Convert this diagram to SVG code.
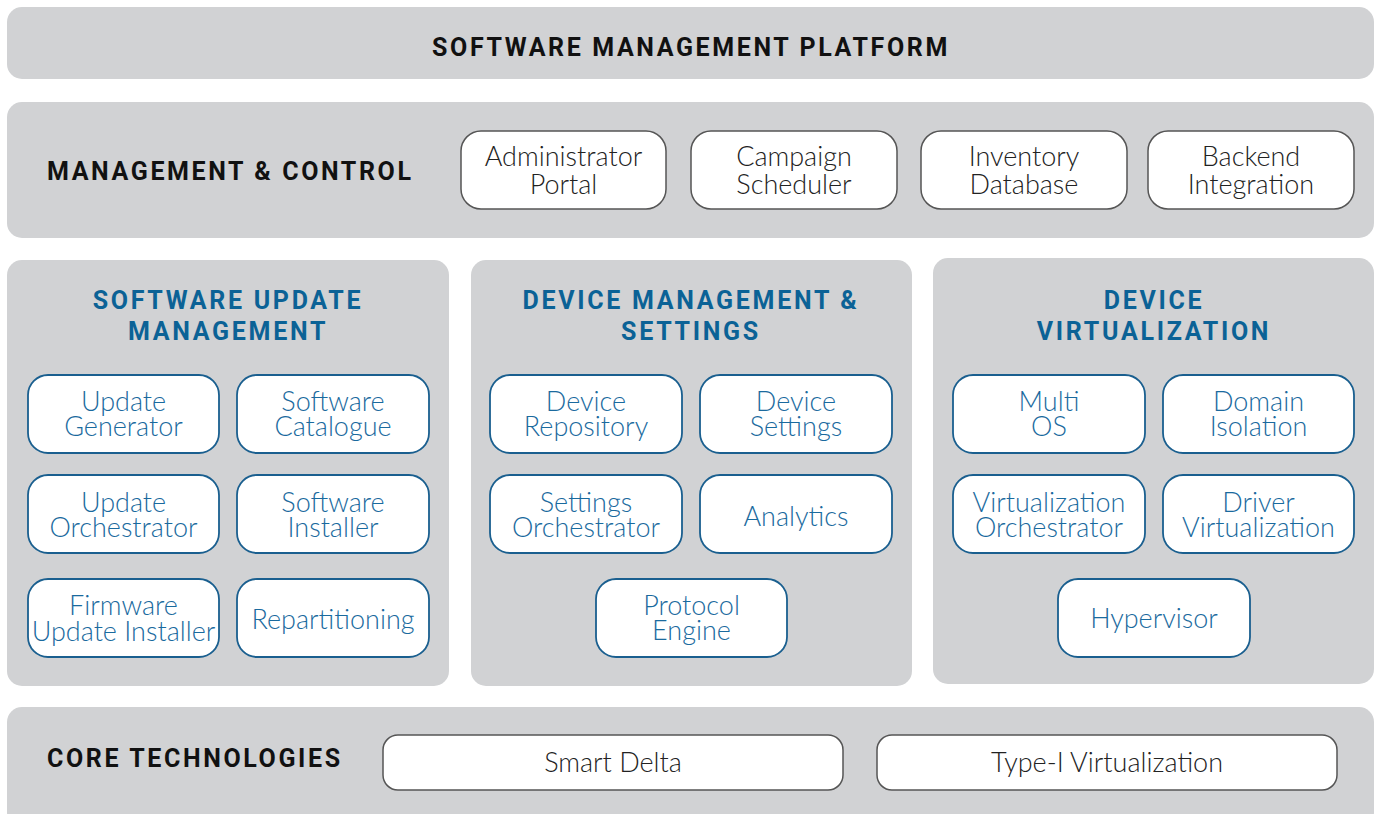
<svg xmlns="http://www.w3.org/2000/svg" width="1381" height="814" viewBox="0 0 1381 814">
<style>
.band{fill:#d1d2d4}
.hd{font-family:Roboto,"Liberation Sans",sans-serif;font-weight:700;font-size:25px;letter-spacing:2.6px;fill:#111}
.bh{font-family:Roboto,"Liberation Sans",sans-serif;font-weight:700;font-size:25px;letter-spacing:2.7px;fill:#0b6296;text-anchor:middle}
.gb{fill:#fff;stroke:#555;stroke-width:1.5}
.bb{fill:#fff;stroke:#1a5f8f;stroke-width:1.8}
.gt{font-family:Lato,"Liberation Sans",sans-serif;font-weight:300;font-size:27px;fill:#222;text-anchor:middle}
.bt{font-family:Lato,"Liberation Sans",sans-serif;font-weight:300;font-size:27px;fill:#1a6a9e;text-anchor:middle}
</style>
<rect width="1381" height="814" fill="#fff"/>
<g id="platform">
<rect class="band" x="7" y="7" width="1367" height="72" rx="15"/>
<text class="hd" x="691" y="56" text-anchor="middle" font-size="24" letter-spacing="2.8">SOFTWARE MANAGEMENT PLATFORM</text>
</g>
<g id="management">
<rect class="band" x="7" y="102" width="1367" height="136" rx="15"/>
<text class="hd" x="47" y="180">MANAGEMENT &amp; CONTROL</text>
</g>
<g id="admin-portal"><rect class="gb" x="461" y="131" width="205" height="78" rx="20"/><text class="gt" x="563.5" y="166">Administrator</text><text class="gt" x="563.5" y="194">Portal</text></g>
<g id="campaign-scheduler"><rect class="gb" x="691" y="131" width="206" height="78" rx="20"/><text class="gt" x="794" y="166">Campaign</text><text class="gt" x="794" y="194">Scheduler</text></g>
<g id="inventory-database"><rect class="gb" x="921" y="131" width="206" height="78" rx="20"/><text class="gt" x="1024" y="166">Inventory</text><text class="gt" x="1024" y="194">Database</text></g>
<g id="backend-integration"><rect class="gb" x="1148" y="131" width="206" height="78" rx="20"/><text class="gt" x="1251" y="166">Backend</text><text class="gt" x="1251" y="194">Integration</text></g>

<g id="software-update-management">
<rect class="band" x="7" y="260" width="442" height="426" rx="15"/>
<text class="bh" x="228" y="309">SOFTWARE UPDATE</text>
<text class="bh" x="228" y="340">MANAGEMENT</text>
</g>
<g id="update-generator"><rect class="bb" x="28" y="375" width="191" height="78" rx="20"/><text class="bt" x="123.5" y="411">Update</text><text class="bt" x="123.5" y="436">Generator</text></g>
<g id="software-catalogue"><rect class="bb" x="237" y="375" width="192" height="78" rx="20"/><text class="bt" x="333" y="411">Software</text><text class="bt" x="333" y="436">Catalogue</text></g>
<g id="update-orchestrator"><rect class="bb" x="28" y="475" width="191" height="78" rx="20"/><text class="bt" x="123.5" y="512">Update</text><text class="bt" x="123.5" y="537">Orchestrator</text></g>
<g id="software-installer"><rect class="bb" x="237" y="475" width="192" height="78" rx="20"/><text class="bt" x="333" y="512">Software</text><text class="bt" x="333" y="537">Installer</text></g>
<g id="firmware-update-installer"><rect class="bb" x="28" y="579" width="191" height="78" rx="20"/><text class="bt" x="123.5" y="615">Firmware</text><text class="bt" x="123.5" y="641">Update Installer</text></g>
<g id="repartitioning"><rect class="bb" x="237" y="579" width="192" height="78" rx="20"/><text class="bt" x="333" y="629">Repartitioning</text></g>

<g id="device-management-settings">
<rect class="band" x="471" y="260" width="441" height="426" rx="15"/>
<text class="bh" x="691" y="309">DEVICE MANAGEMENT &amp;</text>
<text class="bh" x="691" y="340">SETTINGS</text>
</g>
<g id="device-repository"><rect class="bb" x="490" y="375" width="192" height="78" rx="20"/><text class="bt" x="586" y="411">Device</text><text class="bt" x="586" y="436">Repository</text></g>
<g id="device-settings"><rect class="bb" x="700" y="375" width="192" height="78" rx="20"/><text class="bt" x="796" y="411">Device</text><text class="bt" x="796" y="436">Settings</text></g>
<g id="settings-orchestrator"><rect class="bb" x="490" y="475" width="192" height="78" rx="20"/><text class="bt" x="586" y="512">Settings</text><text class="bt" x="586" y="537">Orchestrator</text></g>
<g id="analytics"><rect class="bb" x="700" y="475" width="192" height="78" rx="20"/><text class="bt" x="796" y="526">Analytics</text></g>
<g id="protocol-engine"><rect class="bb" x="596" y="579" width="191" height="78" rx="20"/><text class="bt" x="691.5" y="615">Protocol</text><text class="bt" x="691.5" y="640">Engine</text></g>

<g id="device-virtualization">
<rect class="band" x="933" y="258" width="441" height="426" rx="15"/>
<text class="bh" x="1154" y="309">DEVICE</text>
<text class="bh" x="1154" y="340">VIRTUALIZATION</text>
</g>
<g id="multi-os"><rect class="bb" x="953" y="375" width="192" height="78" rx="20"/><text class="bt" x="1049" y="411">Multi</text><text class="bt" x="1049" y="436">OS</text></g>
<g id="domain-isolation"><rect class="bb" x="1163" y="375" width="191" height="78" rx="20"/><text class="bt" x="1258.5" y="411">Domain</text><text class="bt" x="1258.5" y="436">Isolation</text></g>
<g id="virtualization-orchestrator"><rect class="bb" x="953" y="475" width="192" height="78" rx="20"/><text class="bt" x="1049" y="512">Virtualization</text><text class="bt" x="1049" y="537">Orchestrator</text></g>
<g id="driver-virtualization"><rect class="bb" x="1163" y="475" width="191" height="78" rx="20"/><text class="bt" x="1258.5" y="512">Driver</text><text class="bt" x="1258.5" y="537">Virtualization</text></g>
<g id="hypervisor"><rect class="bb" x="1058" y="579" width="192" height="78" rx="20"/><text class="bt" x="1154" y="628">Hypervisor</text></g>

<g id="core-technologies">
<rect class="band" x="7" y="707" width="1367" height="120" rx="15"/>
<text class="hd" x="47" y="767">CORE TECHNOLOGIES</text>
</g>
<g id="smart-delta"><rect class="gb" x="383" y="735" width="460" height="55" rx="15"/><text class="gt" x="613" y="772">Smart Delta</text></g>
<g id="type1-virtualization"><rect class="gb" x="877" y="735" width="460" height="55" rx="15"/><text class="gt" x="1107" y="772">Type-I Virtualization</text></g>
<g id="connectors"></g>
</svg>
